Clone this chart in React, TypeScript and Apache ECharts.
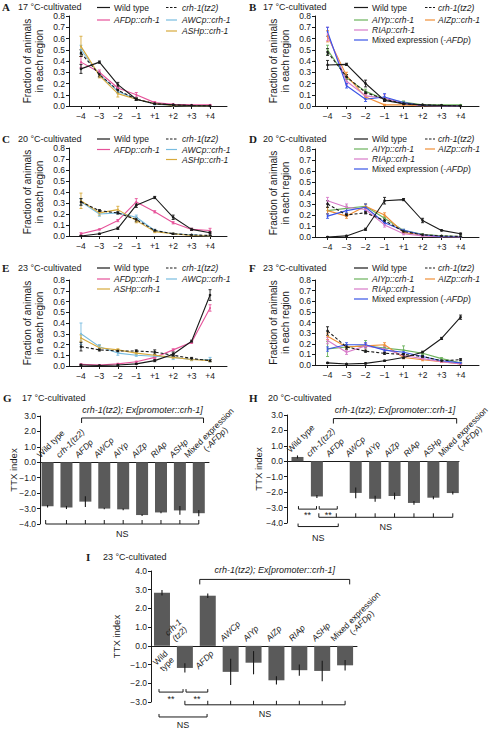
import React, { useEffect, useRef } from "react";
import * as echarts from "echarts";

const FONT = "'Liberation Sans', Arial, Helvetica, sans-serif";
const SERIF = "'Liberation Serif', 'Times New Roman', serif";
const INK = "#1a1a1a";
const BAR = "#5a5a5a";

// ---------- colours ----------
const C_WT = "#1a1a1a";
const C_AFD = "#e6539a";
const C_AWC = "#78bce0";
const C_ASH = "#d8aa3c";
const C_AIY = "#6cb25c";
const C_AIZ = "#f08f38";
const C_RIA = "#d77ac9";
const C_MIX = "#3a55e6";

// ---------- categories ----------
const regionLabels = ["−4", "−3", "−2", "−1", "+1", "+2", "+3", "+4"];
const genotypeLabelsGH = ["Wild type", "crh-1(tz2)", "AFDp", "AWCp", "AIYp", "AIZp", "RIAp", "ASHp", "Mixed expression\n(-AFDp)"];
const genotypeLabelsI = ["Wild\ntype", "crh-1\n(tz2)", "AFDp", "AWCp", "AIYp", "AIZp", "RIAp", "ASHp", "Mixed expression\n(-AFDp)"];

const WT = "Wild type";
const CRH = "crh-1(tz2)";
const AFD = "AFDp::crh-1";
const AWC = "AWCp::crh-1";
const ASH = "ASHp::crh-1";
const AIY = "AIYp::crh-1";
const AIZ = "AIZp::crh-1";
const RIA = "RIAp::crh-1";
const MIX = "Mixed expression (-AFDp)";

// ---------- Panel A (17 °C) ----------
const A_wildType = [0.33, 0.39, 0.19, 0.06, 0.02, 0.01, 0.005, 0.002];
const A_wildTypeErr = [0.04, 0.01, 0.02, 0.01, 0.005, 0.003, 0.002, 0];
const A_crh1 = [0.47, 0.28, 0.14, 0.06, 0.02, 0.01, 0.003, 0];
const A_crh1Err = [0.03, 0.02, 0.02, 0.01, 0.005, 0.003, 0, 0];
const A_AFDp = [0.39, 0.3, 0.16, 0.1, 0.03, 0.015, 0.01, 0.01];
const A_AFDpErr = [0.05, 0.02, 0.02, 0.02, 0.01, 0.005, 0.003, 0.003];
const A_AWCp = [0.5, 0.28, 0.13, 0.06, 0.015, 0.005, 0, 0];
const A_AWCpErr = [0.04, 0.02, 0.02, 0.01, 0.005, 0.003, 0, 0];
const A_ASHp = [0.53, 0.27, 0.11, 0.06, 0.02, 0.005, 0, 0];
const A_ASHpErr = [0.09, 0.02, 0.03, 0.01, 0.005, 0.003, 0, 0];

// ---------- Panel B (17 °C) ----------
const B_wildType = [0.365, 0.37, 0.2, 0.05, 0.02, 0.01, 0.005, 0];
const B_wildTypeErr = [0.04, 0.01, 0.03, 0.01, 0.005, 0.003, 0.002, 0];
const B_crh1 = [0.48, 0.26, 0.12, 0.06, 0.02, 0.01, 0.005, 0];
const B_crh1Err = [0.03, 0.02, 0.01, 0.01, 0.005, 0.003, 0, 0];
const B_AIYp = [0.5, 0.25, 0.13, 0.06, 0.035, 0.01, 0.01, 0.01];
const B_AIYpErr = [0.04, 0.03, 0.02, 0.02, 0.01, 0.005, 0.003, 0.003];
const B_AIZp = [0.62, 0.27, 0.08, 0.01, 0.01, 0, 0, 0];
const B_AIZpErr = [0.05, 0.03, 0.02, 0.005, 0.005, 0, 0, 0];
const B_RIAp = [0.64, 0.22, 0.09, 0.07, 0.02, 0.005, 0, 0];
const B_RIApErr = [0.06, 0.03, 0.02, 0.03, 0.005, 0, 0, 0];
const B_mixed = [0.66, 0.18, 0.06, 0.08, 0.03, 0.005, 0, 0];
const B_mixedErr = [0.04, 0.02, 0.02, 0.03, 0.01, 0, 0, 0];

// ---------- Panel C (20 °C) ----------
const C_wildType = [0.0, 0.02, 0.07, 0.28, 0.35, 0.17, 0.06, 0.03];
const C_wildTypeErr = [0.005, 0.005, 0.01, 0.02, 0.01, 0.02, 0.01, 0.01];
const C_crh1 = [0.31, 0.23, 0.21, 0.15, 0.05, 0.02, 0.01, 0.005];
const C_crh1Err = [0.03, 0.01, 0.01, 0.02, 0.01, 0.005, 0.003, 0.002];
const C_AFDp = [0.02, 0.06, 0.14, 0.31, 0.22, 0.12, 0.06, 0.05];
const C_AFDpErr = [0.01, 0.005, 0.01, 0.03, 0.01, 0.01, 0.01, 0.02];
const C_AWCp = [0.31, 0.2, 0.21, 0.17, 0.05, 0.02, 0.01, 0];
const C_AWCpErr = [0.03, 0.02, 0.01, 0.02, 0.01, 0.005, 0.003, 0];
const C_ASHp = [0.32, 0.21, 0.24, 0.14, 0.04, 0.02, 0.005, 0];
const C_ASHpErr = [0.07, 0.02, 0.03, 0.02, 0.01, 0.005, 0, 0];

// ---------- Panel D (20 °C) ----------
const D_wildType = [0.0, 0.01, 0.07, 0.33, 0.34, 0.15, 0.06, 0.03];
const D_wildTypeErr = [0.003, 0.005, 0.01, 0.03, 0.01, 0.02, 0.005, 0.005];
const D_crh1 = [0.3, 0.2, 0.22, 0.15, 0.05, 0.02, 0.01, 0.005];
const D_crh1Err = [0.03, 0.01, 0.01, 0.02, 0.01, 0.005, 0.003, 0.002];
const D_AIYp = [0.24, 0.26, 0.28, 0.17, 0.06, 0.025, 0.01, 0.005];
const D_AIYpErr = [0.03, 0.02, 0.02, 0.02, 0.01, 0.005, 0.003, 0.002];
const D_AIZp = [0.24, 0.19, 0.28, 0.2, 0.04, 0.02, 0.005, 0];
const D_AIZpErr = [0.03, 0.02, 0.02, 0.02, 0.01, 0.005, 0, 0];
const D_RIAp = [0.33, 0.27, 0.25, 0.11, 0.03, 0.01, 0, 0];
const D_RIApErr = [0.03, 0.03, 0.02, 0.02, 0.01, 0.005, 0, 0];
const D_mixed = [0.19, 0.24, 0.27, 0.13, 0.06, 0.02, 0.005, 0];
const D_mixedErr = [0.02, 0.02, 0.03, 0.02, 0.01, 0.005, 0, 0];

// ---------- Panel E (23 °C) ----------
const E_wildType = [0.01, 0.005, 0.01, 0.02, 0.05, 0.11, 0.23, 0.66];
const E_wildTypeErr = [0.005, 0.003, 0.005, 0.005, 0.01, 0.02, 0.01, 0.05];
const E_crh1 = [0.18, 0.15, 0.14, 0.14, 0.13, 0.1, 0.07, 0.05];
const E_crh1Err = [0.04, 0.01, 0.01, 0.01, 0.02, 0.01, 0.01, 0.01];
const E_AFDp = [0.015, 0.01, 0.02, 0.04, 0.08, 0.15, 0.22, 0.54];
const E_AFDpErr = [0.005, 0.003, 0.005, 0.005, 0.01, 0.01, 0.01, 0.03];
const E_AWCp = [0.3, 0.18, 0.12, 0.1, 0.09, 0.08, 0.06, 0.06];
const E_AWCpErr = [0.1, 0.02, 0.02, 0.01, 0.01, 0.02, 0.01, 0.02];
const E_ASHp = [0.26, 0.17, 0.15, 0.12, 0.1, 0.08, 0.06, 0.05];
const E_ASHpErr = [0.03, 0.02, 0.01, 0.01, 0.01, 0.01, 0.01, 0.01];

// ---------- Panel F (23 °C) ----------
const F_wildType = [0.02, 0.01, 0.015, 0.04, 0.07, 0.12, 0.25, 0.45];
const F_wildTypeErr = [0.005, 0.003, 0.005, 0.005, 0.01, 0.01, 0.01, 0.02];
const F_crh1 = [0.32, 0.17, 0.13, 0.11, 0.1, 0.08, 0.04, 0.05];
const F_crh1Err = [0.04, 0.02, 0.01, 0.01, 0.01, 0.01, 0.005, 0.01];
const F_AIYp = [0.15, 0.17, 0.18, 0.16, 0.14, 0.11, 0.06, 0.02];
const F_AIYpErr = [0.07, 0.02, 0.05, 0.02, 0.04, 0.01, 0.01, 0.005];
const F_AIZp = [0.27, 0.17, 0.18, 0.19, 0.07, 0.05, 0.03, 0.01];
const F_AIZpErr = [0.03, 0.02, 0.02, 0.02, 0.01, 0.01, 0.005, 0.003];
const F_RIAp = [0.23, 0.12, 0.18, 0.15, 0.09, 0.06, 0.03, 0.01];
const F_RIApErr = [0.03, 0.02, 0.02, 0.02, 0.01, 0.01, 0.005, 0.003];
const F_mixed = [0.15, 0.19, 0.19, 0.14, 0.12, 0.08, 0.04, 0.02];
const F_mixedErr = [0.02, 0.02, 0.02, 0.02, 0.01, 0.01, 0.005, 0.003];

// ---------- TTX index (G, H, I) ----------
const G_ttx = [-2.85, -2.93, -2.55, -3.0, -3.05, -3.42, -3.25, -3.12, -3.3];
const G_ttxErr = [0.08, 0.1, 0.35, 0.05, 0.06, 0.06, 0.06, 0.28, 0.2];
const H_ttx = [0.28, -2.28, 0.0, -2.05, -2.43, -2.25, -2.7, -2.36, -2.06];
const H_ttxErr = [0.1, 0.1, 0, 0.35, 0.2, 0.22, 0.12, 0.1, 0.1];
const I_ttx = [2.84, -1.18, 2.68, -1.39, -0.9, -1.84, -1.3, -1.34, -1.04];
const I_ttxErr = [0.15, 0.25, 0.12, 0.7, 0.62, 0.22, 0.3, 0.55, 0.28];

const ttxRangeG = [-4, 3];
const ttxRangeH = [-4, 3];
const ttxRangeI = [-3, 4];

type LS = { name: string; values: number[]; errs: number[]; color: string; dashed?: boolean };

const panelA: LS[] = [
  { name: AFD, values: A_AFDp, errs: A_AFDpErr, color: C_AFD },
  { name: AWC, values: A_AWCp, errs: A_AWCpErr, color: C_AWC },
  { name: ASH, values: A_ASHp, errs: A_ASHpErr, color: C_ASH },
  { name: CRH, values: A_crh1, errs: A_crh1Err, color: C_WT, dashed: true },
  { name: WT, values: A_wildType, errs: A_wildTypeErr, color: C_WT },
];
const panelB: LS[] = [
  { name: AIY, values: B_AIYp, errs: B_AIYpErr, color: C_AIY },
  { name: AIZ, values: B_AIZp, errs: B_AIZpErr, color: C_AIZ },
  { name: RIA, values: B_RIAp, errs: B_RIApErr, color: C_RIA },
  { name: MIX, values: B_mixed, errs: B_mixedErr, color: C_MIX },
  { name: CRH, values: B_crh1, errs: B_crh1Err, color: C_WT, dashed: true },
  { name: WT, values: B_wildType, errs: B_wildTypeErr, color: C_WT },
];
const panelC: LS[] = [
  { name: AFD, values: C_AFDp, errs: C_AFDpErr, color: C_AFD },
  { name: AWC, values: C_AWCp, errs: C_AWCpErr, color: C_AWC },
  { name: ASH, values: C_ASHp, errs: C_ASHpErr, color: C_ASH },
  { name: CRH, values: C_crh1, errs: C_crh1Err, color: C_WT, dashed: true },
  { name: WT, values: C_wildType, errs: C_wildTypeErr, color: C_WT },
];
const panelD: LS[] = [
  { name: AIY, values: D_AIYp, errs: D_AIYpErr, color: C_AIY },
  { name: AIZ, values: D_AIZp, errs: D_AIZpErr, color: C_AIZ },
  { name: RIA, values: D_RIAp, errs: D_RIApErr, color: C_RIA },
  { name: MIX, values: D_mixed, errs: D_mixedErr, color: C_MIX },
  { name: CRH, values: D_crh1, errs: D_crh1Err, color: C_WT, dashed: true },
  { name: WT, values: D_wildType, errs: D_wildTypeErr, color: C_WT },
];
const panelE: LS[] = [
  { name: AFD, values: E_AFDp, errs: E_AFDpErr, color: C_AFD },
  { name: AWC, values: E_AWCp, errs: E_AWCpErr, color: C_AWC },
  { name: ASH, values: E_ASHp, errs: E_ASHpErr, color: C_ASH },
  { name: CRH, values: E_crh1, errs: E_crh1Err, color: C_WT, dashed: true },
  { name: WT, values: E_wildType, errs: E_wildTypeErr, color: C_WT },
];
const panelF: LS[] = [
  { name: AIY, values: F_AIYp, errs: F_AIYpErr, color: C_AIY },
  { name: AIZ, values: F_AIZp, errs: F_AIZpErr, color: C_AIZ },
  { name: RIA, values: F_RIAp, errs: F_RIApErr, color: C_RIA },
  { name: MIX, values: F_mixed, errs: F_mixedErr, color: C_MIX },
  { name: CRH, values: F_crh1, errs: F_crh1Err, color: C_WT, dashed: true },
  { name: WT, values: F_wildType, errs: F_wildTypeErr, color: C_WT },
];

// ---------- layout ----------
const lineGrids = [
  { left: 69, top: 16, width: 158, height: 90, xmin: -0.65, xmax: 7.92 },
  { left: 315, top: 16, width: 164, height: 90, xmin: -0.66, xmax: 7.97 },
  { left: 69, top: 148, width: 158, height: 88, xmin: -0.65, xmax: 7.92 },
  { left: 315, top: 149, width: 164, height: 88, xmin: -0.66, xmax: 7.97 },
  { left: 69, top: 280, width: 158, height: 86, xmin: -0.65, xmax: 7.92 },
  { left: 315, top: 280, width: 164, height: 85, xmin: -0.66, xmax: 7.97 },
];
const barGrids = [
  { left: 40, top: 416, width: 169, height: 108, xmin: -0.4, xmax: 8.54, yr: ttxRangeG, nameGap: 22, barW: 12 },
  { left: 287, top: 415, width: 172, height: 108, xmin: -0.54, xmax: 8.32, yr: ttxRangeH, nameGap: 24, barW: 12 },
  { left: 151, top: 571, width: 206, height: 131, xmin: -0.48, xmax: 8.52, yr: ttxRangeI, nameGap: 30, barW: 16 },
];

const LCOL = { l1: 97, l2: 110, t: 114, r1: 166, r2: 177, rt: 182 };
const RCOL = { l1: 354, l2: 368, t: 372, r1: 425, r2: 435, rt: 438 };
const legendLayouts: [string, number, number][][] = [
  [[WT, 0, 7.5], [CRH, 1, 7.5], [AFD, 0, 20], [AWC, 1, 20], [ASH, 1, 31]],
  [[WT, 0, 7.5], [CRH, 1, 7.5], [AIY, 0, 20], [AIZ, 1, 20], [RIA, 0, 30], [MIX, 0, 40]],
  [[WT, 0, 139], [CRH, 1, 139], [AFD, 0, 149.5], [AWC, 1, 149.5], [ASH, 1, 159.5]],
  [[WT, 0, 139], [CRH, 1, 139], [AIY, 0, 149], [AIZ, 1, 149], [RIA, 0, 159], [MIX, 0, 169]],
  [[WT, 0, 268], [CRH, 1, 268], [AFD, 0, 279], [AWC, 1, 279], [ASH, 0, 289]],
  [[WT, 0, 268], [CRH, 1, 268], [AIY, 0, 279], [AIZ, 1, 279], [RIA, 0, 289], [MIX, 0, 299]],
];
const titles: [string, number, number, string, number][] = [
  ["A", 2, 7, "17 °C-cultivated", 18],
  ["B", 249, 7, "17 °C-cultivated", 263],
  ["C", 2, 139, "20 °C-cultivated", 18],
  ["D", 249, 139, "20 °C-cultivated", 263],
  ["E", 2, 268, "23 °C-cultivated", 18],
  ["F", 249, 268, "23 °C-cultivated", 263],
  ["G", 3, 398, "17 °C-cultivated", 22],
  ["H", 249, 398, "20 °C-cultivated", 268],
  ["I", 86, 557, "23 °C-cultivated", 103],
];

type Bracket = { x1: number; x2: number; y: number; tick: number; every: boolean; label: string; dy: number; italic?: boolean };
const PROMOTER = "crh-1(tz2); Ex[promoter::crh-1]";
const G_brackets: Bracket[] = [
  { x1: 1.8, x2: 8.25, y: 2.87, tick: 5, every: false, label: PROMOTER, dy: -8, italic: true },
  { x1: -0.1, x2: 8, y: -4.0, tick: -4, every: true, label: "NS", dy: 10 },
];
const H_brackets: Bracket[] = [
  { x1: 1.85, x2: 8.2, y: 2.77, tick: 5, every: false, label: PROMOTER, dy: -9, italic: true },
  { x1: 0.05, x2: 0.98, y: -3.1, tick: -3, every: false, label: "**", dy: 6 },
  { x1: 1.12, x2: 2.05, y: -3.1, tick: -3, every: false, label: "**", dy: 6 },
  { x1: 1.1, x2: 8, y: -3.63, tick: -4, every: true, label: "NS", dy: 10 },
  { x1: 0.03, x2: 2.1, y: -4.23, tick: -3, every: false, label: "NS", dy: 11 },
];
const I_brackets: Bracket[] = [
  { x1: 1.65, x2: 8.2, y: 3.55, tick: 5, every: false, label: PROMOTER, dy: -9, italic: true },
  { x1: -0.13, x2: 0.92, y: -2.47, tick: -3, every: false, label: "**", dy: 7 },
  { x1: 1.05, x2: 2.0, y: -2.47, tick: -3, every: false, label: "**", dy: 7 },
  { x1: 1, x2: 8, y: -3.15, tick: -4, every: true, label: "NS", dy: 9 },
  { x1: -0.13, x2: 1.97, y: -3.8, tick: -3, every: false, label: "NS", dy: 8 },
];

const FS = 8.5;
const RICH: any = {
  n: { fontSize: FS, fontFamily: FONT, fill: INK, color: INK, fontStyle: "normal" },
  i: { fontSize: FS, fontFamily: FONT, fill: INK, color: INK, fontStyle: "italic" },
};

function richLine(line: string): string {
  if (line === "Wild type" || line === "Wild" || line === "type" || line === "Mixed expression") return `{n|${line}}`;
  if (line === "(-AFDp)") return "{n|(}{i|-AFDp}{n|)}";
  if (line === MIX) return "{n|Mixed expression (}{i|-AFDp}{n|)}";
  return `{i|${line}}`;
}

let measureCtx: CanvasRenderingContext2D | null = null;
function textWidth(s: string): number {
  if (!measureCtx) measureCtx = document.createElement("canvas").getContext("2d");
  if (!measureCtx) return s.length * FS * 0.5;
  measureCtx.font = `${FS}px ${FONT}`;
  return measureCtx.measureText(s).width;
}

function errorSeries(gi: number, data: number[][], color: string, cap: number, w: number, floor0: boolean) {
  return {
    type: "custom",
    xAxisIndex: gi,
    yAxisIndex: gi,
    data,
    encode: { x: 0, y: 1 },
    clip: false,
    silent: true,
    z: 4,
    renderItem: (_p: any, api: any) => {
      const x = api.value(0);
      const v = api.value(1);
      const e = api.value(2);
      if (!(e > 0)) return { type: "group", children: [] };
      let lo = v - e;
      if (floor0) lo = Math.max(lo, 0);
      const a = api.coord([x, lo]);
      const b = api.coord([x, v + e]);
      const children: any[] = [
        { type: "line", shape: { x1: a[0], y1: a[1], x2: b[0], y2: b[1] }, style: { stroke: color, lineWidth: w } },
      ];
      if (cap > 0) {
        children.push({ type: "line", shape: { x1: a[0] - cap, y1: a[1], x2: a[0] + cap, y2: a[1] }, style: { stroke: color, lineWidth: w } });
        children.push({ type: "line", shape: { x1: b[0] - cap, y1: b[1], x2: b[0] + cap, y2: b[1] }, style: { stroke: color, lineWidth: w } });
      }
      return { type: "group", children };
    },
  };
}

const S2 = Math.SQRT1_2;
const LH = 9;

function labelGroup(label: string, cx: number, y0: number, yBase: number, below: boolean) {
  const lines = label.split("\n");
  const rot = Math.PI / 4;
  const children: any[] = [];
  if (!below) {
    const w1 = textWidth(lines[0]);
    const starts: number[][] = lines.map((ln, j) => {
      const shift = (w1 - textWidth(ln)) / 2;
      return [shift * S2 + j * LH * S2, -shift * S2 + j * LH * S2];
    });
    let px = cx - (lines.length > 1 ? 10 : 6);
    let py = yBase - 3;
    const maxDy = Math.max(...starts.map((s) => s[1]));
    const limit = y0 - 3;
    if (py + maxDy > limit) {
      const d = py + maxDy - limit;
      px -= d;
      py -= d;
    }
    lines.forEach((ln, j) => {
      children.push({
        type: "text",
        x: px + starts[j][0],
        y: py + starts[j][1],
        rotation: rot,
        style: { text: richLine(ln), rich: RICH, fontSize: FS, fontFamily: FONT, fill: INK, align: "left", verticalAlign: "bottom" },
      });
    });
  } else {
    const qx = cx + 1;
    const qy = y0 + 3;
    lines.forEach((ln, j) => {
      children.push({
        type: "text",
        x: qx + j * LH * S2,
        y: qy + j * LH * S2,
        rotation: rot,
        style: { text: richLine(ln), rich: RICH, fontSize: FS, fontFamily: FONT, fill: INK, align: "right", verticalAlign: "top" },
      });
    });
  }
  return { type: "group", children };
}

function buildOption(): any {
  const grid: any[] = [];
  const xAxis: any[] = [];
  const yAxis: any[] = [];
  const series: any[] = [];
  const graphic: any[] = [];
  const axisLineStyle = { color: INK, width: 1 };
  const idx = regionLabels.map((_, i) => i);

  const linePanels = [panelA, panelB, panelC, panelD, panelE, panelF];
  linePanels.forEach((panel, gi) => {
    const g = lineGrids[gi];
    grid.push({ left: g.left, top: g.top, width: g.width, height: g.height, outerBoundsMode: "none", containLabel: false });
    xAxis.push({
      type: "value",
      gridIndex: gi,
      min: g.xmin,
      max: g.xmax,
      splitLine: { show: false },
      axisLine: { show: true, onZero: false, lineStyle: axisLineStyle },
      axisTick: { show: true, length: 3, customValues: idx, lineStyle: axisLineStyle },
      axisLabel: {
        customValues: idx,
        formatter: (v: number) => regionLabels[Math.round(v)] ?? "",
        color: INK,
        fontSize: FS,
        fontFamily: FONT,
        margin: 5,
      },
    });
    yAxis.push({
      type: "value",
      gridIndex: gi,
      min: 0,
      max: 0.8,
      interval: 0.1,
      name: "Fraction of animals\nin each region",
      nameLocation: "middle",
      nameRotate: 90,
      nameGap: 23,
      nameMoveOverlap: false,
      nameTextStyle: { fontSize: 10, fontFamily: FONT, color: INK, lineHeight: 12.5 },
      splitLine: { show: false },
      axisLine: { show: true, onZero: false, lineStyle: axisLineStyle },
      axisTick: { show: true, length: 3, lineStyle: axisLineStyle },
      axisLabel: { formatter: (v: number) => v.toFixed(1), color: INK, fontSize: FS, fontFamily: FONT, margin: 4 },
    });
    panel.forEach((s) => {
      const black = s.color === C_WT;
      series.push({
        type: "line",
        name: s.name,
        xAxisIndex: gi,
        yAxisIndex: gi,
        data: s.values.map((v, i) => [i, v]),
        symbol: "circle",
        symbolSize: black ? 2.6 : 1.8,
        showSymbol: true,
        itemStyle: { color: s.color },
        lineStyle: { color: s.color, width: 1.1, type: s.dashed ? [3, 2] : "solid" },
        z: black ? 6 : 5,
        silent: true,
      });
      series.push(errorSeries(gi, s.values.map((v, i) => [i, v, s.errs[i]]), s.color, 1.5, 0.9, true));
    });
    legendLayouts[gi].forEach(([name, col, y]) => {
      const s = panel.find((p) => p.name === name)!;
      const C = g.left < 200 ? LCOL : RCOL;
      const x1 = col === 0 ? C.l1 : C.r1;
      const x2 = col === 0 ? C.l2 : C.r2;
      const tx = col === 0 ? C.t : C.rt;
      graphic.push({
        type: "line",
        shape: { x1, y1: y, x2, y2: y },
        style: { stroke: s.color, lineWidth: 1.2, lineDash: s.dashed ? [2.5, 1.5] : null },
      });
      graphic.push({
        type: "text",
        x: tx,
        y,
        style: { text: richLine(name), rich: RICH, fontSize: FS, fontFamily: FONT, fill: INK, align: "left", verticalAlign: "middle" },
      });
    });
  });

  const barData = [
    { vals: G_ttx, errs: G_ttxErr, labels: genotypeLabelsGH, brackets: G_brackets, opposite: false },
    { vals: H_ttx, errs: H_ttxErr, labels: genotypeLabelsGH, brackets: H_brackets, opposite: false },
    { vals: I_ttx, errs: I_ttxErr, labels: genotypeLabelsI, brackets: I_brackets, opposite: true },
  ];
  barData.forEach((bd, k) => {
    const gi = 6 + k;
    const g = barGrids[k];
    grid.push({ left: g.left, top: g.top, width: g.width, height: g.height, outerBoundsMode: "none", containLabel: false });
    xAxis.push({
      type: "value",
      gridIndex: gi,
      min: g.xmin,
      max: g.xmax,
      splitLine: { show: false },
      axisLine: { show: true, onZero: true, lineStyle: axisLineStyle },
      axisTick: { show: false },
      axisLabel: { show: false },
    });
    yAxis.push({
      type: "value",
      gridIndex: gi,
      min: g.yr[0],
      max: g.yr[1],
      interval: 1,
      name: "TTX index",
      nameLocation: "middle",
      nameRotate: 90,
      nameGap: g.nameGap,
      nameMoveOverlap: false,
      nameTextStyle: { fontSize: 9.5, fontFamily: FONT, color: INK },
      splitLine: { show: false },
      axisLine: { show: true, onZero: false, lineStyle: axisLineStyle },
      axisTick: { show: true, length: 3, lineStyle: axisLineStyle },
      axisLabel: {
        formatter: (v: number) => (v < 0 ? "−" : "") + Math.abs(v).toFixed(1),
        color: INK,
        fontSize: FS,
        fontFamily: FONT,
        margin: 4,
      },
    });
    series.push({
      type: "bar",
      xAxisIndex: gi,
      yAxisIndex: gi,
      data: bd.vals.map((v, i) => [i, v]),
      barWidth: g.barW,
      itemStyle: { color: BAR },
      silent: true,
      z: 2,
    });
    series.push(errorSeries(gi, bd.vals.map((v, i) => [i, v, bd.errs[i]]), INK, 0, 1.1, false));
    series.push({
      type: "custom",
      xAxisIndex: gi,
      yAxisIndex: gi,
      data: bd.vals.map((v, i) => [i, v]),
      encode: { x: 0, y: 1 },
      clip: false,
      silent: true,
      z: 5,
      renderItem: (params: any, api: any) => {
        const i = params.dataIndex;
        const v = bd.vals[i];
        const p0 = api.coord([i, 0]);
        const below = bd.opposite && v > 0;
        const yBase = bd.opposite ? p0[1] : api.coord([i, Math.max(0, v)])[1];
        return labelGroup(bd.labels[i], p0[0], p0[1], yBase, below);
      },
    });
    series.push({
      type: "custom",
      xAxisIndex: gi,
      yAxisIndex: gi,
      data: bd.brackets.map((b) => [b.x1, b.y]),
      encode: { x: 0, y: 1 },
      clip: false,
      silent: true,
      z: 5,
      renderItem: (params: any, api: any) => {
        const b = bd.brackets[params.dataIndex];
        const p1 = api.coord([b.x1, b.y]);
        const p2 = api.coord([b.x2, b.y]);
        const st = { stroke: INK, lineWidth: 1 };
        const children: any[] = [{ type: "line", shape: { x1: p1[0], y1: p1[1], x2: p2[0], y2: p2[1] }, style: st }];
        const tickXs: number[] = [p1[0], p2[0]];
        if (b.every) {
          for (let k2 = Math.ceil(b.x1 + 0.2); k2 <= Math.floor(b.x2 - 0.2); k2++) tickXs.push(api.coord([k2, b.y])[0]);
        }
        tickXs.forEach((tx) => children.push({ type: "line", shape: { x1: tx, y1: p1[1], x2: tx, y2: p1[1] + b.tick }, style: st }));
        children.push({
          type: "text",
          x: (p1[0] + p2[0]) / 2,
          y: p1[1] + b.dy,
          style: {
            text: b.label,
            fontSize: 9,
            fontStyle: b.italic ? "italic" : "normal",
            fontFamily: FONT,
            fill: INK,
            align: "center",
            verticalAlign: "middle",
          },
        });
        return { type: "group", children };
      },
    });
  });

  titles.forEach(([letter, lx, y, t, tx]) => {
    graphic.push({
      type: "text",
      x: lx,
      y,
      style: { text: letter, fontFamily: SERIF, fontWeight: "bold", fontSize: 11, fill: INK, align: "left", verticalAlign: "middle" },
    });
    graphic.push({
      type: "text",
      x: tx,
      y,
      style: { text: t, fontFamily: FONT, fontSize: 9, fill: INK, align: "left", verticalAlign: "middle" },
    });
  });

  return {
    animation: false,
    backgroundColor: "#ffffff",
    textStyle: { fontFamily: FONT },
    grid,
    xAxis,
    yAxis,
    series,
    graphic,
  };
}

export default function App() {
  const ref = useRef<HTMLDivElement>(null);
  useEffect(() => {
    if (!ref.current) return;
    const chart = echarts.init(ref.current, null, { renderer: "svg" });
    chart.setOption(buildOption());
    return () => chart.dispose();
  }, []);
  return (
    <div
      ref={ref}
      style={{ position: "absolute", left: 0, top: 0, width: 492, height: 730, background: "#ffffff" }}
    />
  );
}
